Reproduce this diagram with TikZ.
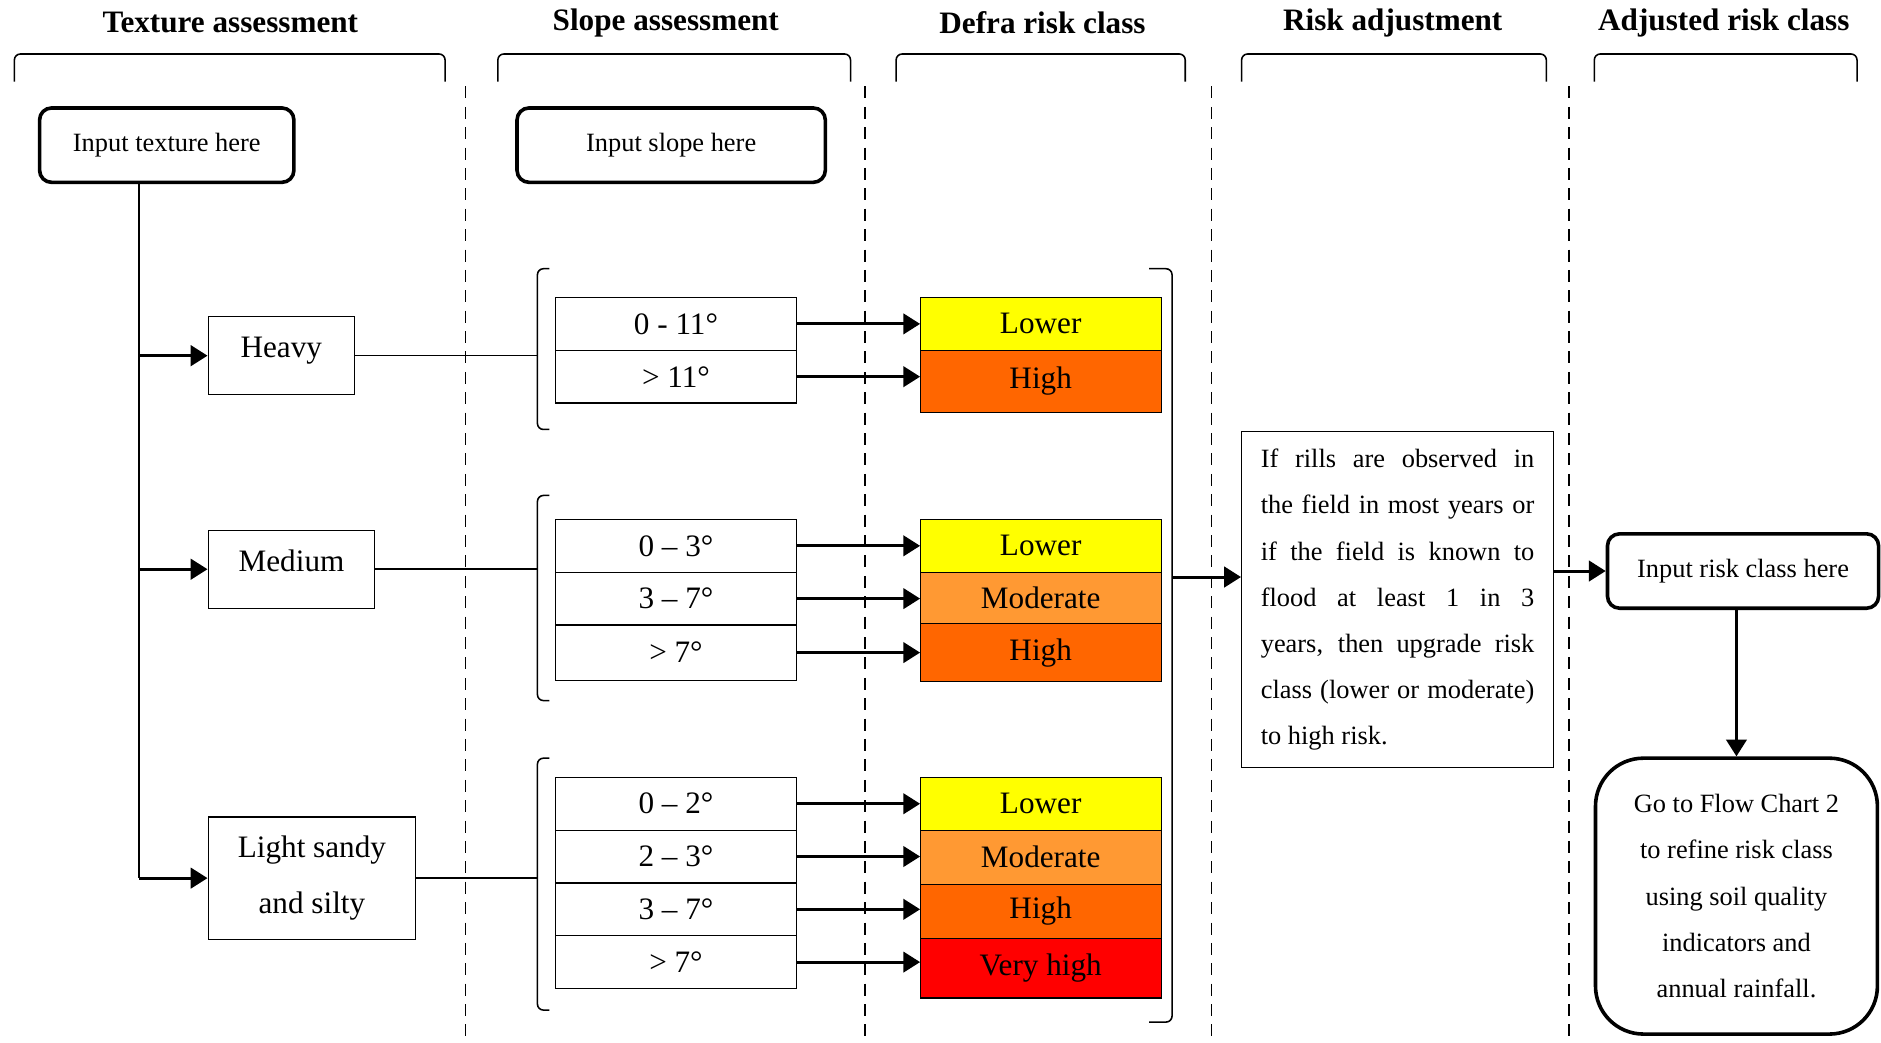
\documentclass[tikz,border=0pt]{standalone}
\usepackage{fontspec}
\setmainfont{Liberation Serif}
\usetikzlibrary{arrows.meta,positioning}
\definecolor{lowrisk}{HTML}{FFFF00}
\definecolor{modrisk}{HTML}{FF9933}
\definecolor{highrisk}{HTML}{FF6600}
\definecolor{vhighrisk}{HTML}{FF0000}
\tikzset{
    heading/.style={font=\bfseries\fontsize{26}{30}\selectfont},
    inbox/.style={rectangle, rounded corners=10pt, draw=black, line width=3pt, minimum height=62pt, font=\fontsize{22}{26}\selectfont},
    classbox/.style={rectangle, draw=black, line width=1pt, align=center, font=\fontsize{26}{47}\selectfont},
    slopebox/.style={rectangle, draw=black, line width=1pt, minimum width=201pt, minimum height=44pt, outer sep=0pt, font=\fontsize{26}{30}\selectfont},
    riskbox/.style={slopebox},
    pil/.style={-{Triangle[length=14pt,width=17pt]}, line width=2.5pt},
    divider/.style={dashed, dash pattern=on 10pt off 7pt, line width=1.3pt},
    brak/.style={line width=1.3pt, rounded corners=5pt},
    link/.style={line width=1.3pt}
}

\begin{document}
\begin{tikzpicture}[x=1pt, y=-1pt]
    \useasboundingbox (0,0) rectangle (1568,869);
    % column headings
    \node[heading] (h1) at (192,19) {Texture assessment};
    \node[heading] (h2) at (555,19) {Slope assessment};
    \node[heading] (h3) at (869,19) {Defra risk class};
    \node[heading] (h4) at (1161,19) {Risk adjustment};
    \node[heading] (h5) at (1437,19) {Adjusted risk class};
    \foreach \a/\b in {12/371, 415/709, 747/988, 1035/1289, 1329/1548}
      \draw[brak] (\a,68) -- (\a,45) -- (\b,45) -- (\b,68);
    \foreach \x in {388,721,1010,1308}
      \draw[divider] (\x,72) -- (\x,869);

    % inputs
    \node[inbox, minimum width=212pt] (intex) at (139,121) {Input texture here};
    \node[inbox, minimum width=257pt] (inslope) at (559.5,121) {Input slope here};

    % texture classes
    \node[classbox, minimum width=122pt, text height=20pt, text depth=17pt, inner ysep=14pt, anchor=west] (heavy) at (173,296.5) {Heavy};
    \node[classbox, minimum width=139pt, text height=20pt, text depth=17pt, inner ysep=14pt, anchor=west] (medium) at (173,474.5) {Medium};
    \node[classbox, minimum width=173pt, minimum height=102pt, anchor=west] (light) at (173,732) {Light sandy\\and silty};
    \coordinate (tk) at (116,0);
    \draw[link] (intex.south -| tk) -- (light.west -| tk);
    \foreach \c in {heavy,medium,light}
      \draw[pil] (\c.west -| tk) -- (\c.west);

    % slope classes
    \node[slopebox, anchor=north] (sh1) at (563.5,248) {0 - 11°};
    \node[slopebox, below=0pt of sh1] (sh2) {> 11°};
    \node[slopebox, anchor=north] (sm1) at (563.5,433) {0 – 3°};
    \node[slopebox, below=0pt of sm1] (sm2) {3 – 7°};
    \node[slopebox, below=0pt of sm2, minimum height=46pt] (sm3) {> 7°};
    \node[slopebox, anchor=north] (sl1) at (563.5,648) {0 – 2°};
    \node[slopebox, below=0pt of sl1] (sl2) {2 – 3°};
    \node[slopebox, below=0pt of sl2] (sl3) {3 – 7°};
    \node[slopebox, below=0pt of sl3] (sl4) {> 7°};
    \coordinate (bx) at (448,0);
    \foreach \c in {heavy,medium,light}
      \draw[link] (\c.east) -- (\c.east -| bx);
    \draw[brak] (458,224) -- (448,224) -- (448,358) -- (458,358);
    \draw[brak] (458,413) -- (448,413) -- (448,584) -- (458,584);
    \draw[brak] (458,632) -- (448,632) -- (448,842) -- (458,842);

    % Defra risk classes
    \node[riskbox, fill=lowrisk, anchor=north] (rh1) at (867.5,248) {Lower};
    \node[riskbox, fill=highrisk, below=0pt of rh1, minimum height=52pt] (rh2) {High};
    \node[riskbox, fill=lowrisk, anchor=north] (rm1) at (867.5,433) {Lower};
    \node[riskbox, fill=modrisk, below=0pt of rm1, minimum height=43pt] (rm2) {Moderate};
    \node[riskbox, fill=highrisk, below=0pt of rm2, minimum height=48pt] (rm3) {High};
    \node[riskbox, fill=lowrisk, anchor=north] (rl1) at (867.5,648) {Lower};
    \node[riskbox, fill=modrisk, below=0pt of rl1, minimum height=45pt] (rl2) {Moderate};
    \node[riskbox, fill=highrisk, below=0pt of rl2, minimum height=45pt] (rl3) {High};
    \node[riskbox, fill=vhighrisk, below=0pt of rl3, minimum height=50pt] (rl4) {Very high};
    \foreach \s/\r in {sh1/rh1, sh2/rh2, sm1/rm1, sm2/rm2, sm3/rm3, sl1/rl1, sl2/rl2, sl3/rl3, sl4/rl4}
      \draw[pil] (\s.east) -- (\s.east -| \r.west);
    \draw[brak] (958,224) -- (977,224) -- (977,852) -- (958,852);

    % risk adjustment
    \node[draw, line width=1pt, text width=228pt, inner xsep=16pt, align=justify, minimum height=280pt,
      font={\fontsize{22}{38.5}\selectfont\tolerance=10000}] (adj) at (1165,500)
      {If rills are observed in\linebreak the field in most years or\linebreak if the field is known to\linebreak
       flood at least 1 in 3\linebreak years, then upgrade risk\linebreak class (lower or moderate)\linebreak to high risk.};
    \coordinate (rbk) at (977,481);
    \draw[pil] (rbk) -- (rbk -| adj.west);

    % adjusted risk class
    \node[inbox, minimum width=226pt] (inrisk) at (1453,476) {Input risk class here};
    \draw[pil] (inrisk.west -| adj.east) -- (inrisk.west);
    \node[inbox, rounded corners=40pt, minimum width=235pt, minimum height=230pt, align=center,
      font=\fontsize{22}{38.5}\selectfont] (gochart) at (1447.5,747)
      {Go to Flow Chart 2\\to refine risk class\\using soil quality\\indicators and\\annual rainfall.};
    \draw[pil] (gochart.north |- inrisk.south) -- (gochart.north);
\end{tikzpicture}
\end{document}
